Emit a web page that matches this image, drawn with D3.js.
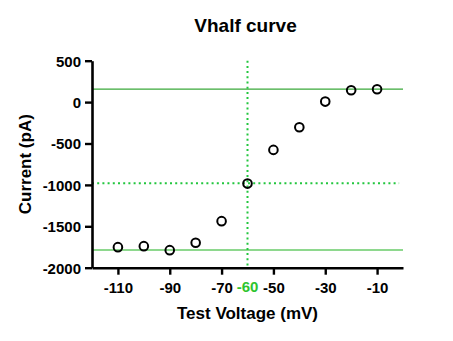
<!DOCTYPE html>
<html>
<head>
<meta charset="utf-8">
<script src="https://cdn.jsdelivr.net/npm/d3@7"></script>
<style>
  html, body { margin: 0; padding: 0; background: #fff; }
  svg text { font-family: "Liberation Sans", Arial, sans-serif; font-weight: bold; }
</style>
</head>
<body>
<svg id="chart" width="453" height="341"></svg>
<script>
// Data
const voltages = [-110, -100, -90, -80, -70, -60, -50, -40, -30, -20, -10];
const currents = [-1752, -1740, -1788, -1698, -1438, -984, -577, -303, 6, 143, 155];
const xTicks = [-110, -90, -70, -50, -30, -10];
const yTicks = [500, 0, -500, -1000, -1500, -2000];
const vhalf = -60;
const halfCurrent = -980;
const topPlateau = 156;
const bottomPlateau = -1785;
const titleText = "Vhalf curve";
const xLabel = "Test Voltage (mV)";
const yLabel = "Current (pA)";

const svg = d3.select("#chart");
const x = d3.scaleLinear().domain([-120, 0]).range([92, 403]);
const y = d3.scaleLinear().domain([-2000, 500]).range([267.7, 60.7]);
const fmt = d => String(d);

// Reference lines
svg.append("line")
  .attr("x1", x(-120)).attr("x2", x(0))
  .attr("y1", y(topPlateau)).attr("y2", y(topPlateau))
  .attr("stroke", "#3aa83a").attr("stroke-width", 1.2);
svg.append("line")
  .attr("x1", x(-120)).attr("x2", x(0))
  .attr("y1", y(bottomPlateau)).attr("y2", y(bottomPlateau))
  .attr("stroke", "#8ed88e").attr("stroke-width", 2);
svg.append("line")
  .attr("x1", x(-120)).attr("x2", x(-1.5))
  .attr("y1", y(halfCurrent)).attr("y2", y(halfCurrent))
  .attr("stroke", "#22c63e").attr("stroke-width", 2)
  .attr("stroke-dasharray", "2,3.2");
svg.append("line")
  .attr("x1", x(vhalf)).attr("x2", x(vhalf))
  .attr("y1", y(500)).attr("y2", y(-2000))
  .attr("stroke", "#22c63e").attr("stroke-width", 2)
  .attr("stroke-dasharray", "2,3.2");

// Axes
const xAxis = svg.append("g")
  .attr("transform", `translate(0,${y(-2000)})`)
  .call(d3.axisBottom(x).tickValues(xTicks).tickFormat(fmt).tickSize(7).tickPadding(4).tickSizeOuter(0));
const yAxis = svg.append("g")
  .attr("transform", `translate(${x(-120)},0)`)
  .call(d3.axisLeft(y).tickValues(yTicks).tickFormat(fmt).tickSize(7).tickPadding(4).tickSizeOuter(0));
[xAxis, yAxis].forEach(g => {
  g.selectAll("path.domain").attr("stroke", "#000").attr("stroke-width", 2.6);
  g.selectAll(".tick line").attr("stroke", "#000").attr("stroke-width", 2.4);
  g.selectAll(".tick text").attr("fill", "#000").style("font-size", "15px");
});
xAxis.selectAll(".tick text").attr("dy", "0.95em");
yAxis.selectAll(".tick text").attr("dy", "0.36em");

// Vhalf label on the x axis
svg.append("text")
  .attr("x", x(vhalf)).attr("y", 292)
  .attr("text-anchor", "middle")
  .attr("fill", "#2ec42e")
  .style("font-size", "15px")
  .text(fmt(vhalf));

// Points
svg.append("g").selectAll("circle")
  .data(voltages.map((v, i) => ({v, c: currents[i]})))
  .join("circle")
  .attr("cx", d => x(d.v)).attr("cy", d => y(d.c))
  .attr("r", 4.3)
  .attr("fill", "none").attr("stroke", "#000").attr("stroke-width", 2);

// Titles
svg.append("text")
  .attr("x", 245.5).attr("y", 32)
  .attr("text-anchor", "middle")
  .style("font-size", "19px")
  .text(titleText);
svg.append("text")
  .attr("x", (x(-120) + x(0)) / 2).attr("y", 319)
  .attr("text-anchor", "middle")
  .style("font-size", "17px")
  .text(xLabel);
svg.append("text")
  .attr("transform", `translate(30.5,${(y(500) + y(-2000)) / 2}) rotate(-90)`)
  .attr("text-anchor", "middle")
  .style("font-size", "17px")
  .text(yLabel);
</script>
</body>
</html>
